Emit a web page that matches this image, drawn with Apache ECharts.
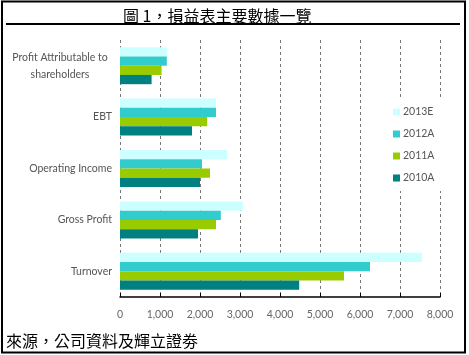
<!DOCTYPE html>
<html>
<head>
<meta charset="utf-8">
<script src="https://cdn.jsdelivr.net/npm/echarts@6/dist/echarts.min.js"></script>
<style>html,body{margin:0;padding:0;background:#fff;}#c{width:469px;height:355px;}</style>
</head>
<body>
<div id="c"></div>
<script>
const categories = ['Turnover', 'Gross Profit', 'Operating Income', 'EBT', 'Profit Attributable to shareholders'];
const seriesNames = ['2013E', '2012A', '2011A', '2010A'];
const values2013E = [7550, 3070, 2680, 2400, 1170];
const values2012A = [6250, 2520, 2050, 2400, 1170];
const values2011A = [5600, 2400, 2250, 2180, 1040];
const values2010A = [4480, 1950, 2000, 1800, 790];
const xTicks = [0, 1000, 2000, 3000, 4000, 5000, 6000, 7000, 8000];
const colors = ['#ccffff', '#33cccc', '#99cc00', '#008080'];

const titleText = '圖 1，損益表主要數據一覽';
const footerText = '來源，公司資料及輝立證劵';

const chart = echarts.init(document.getElementById('c'));
const dataSets = [values2013E, values2012A, values2011A, values2010A];
const labelFont = 'Lato, "Liberation Sans", sans-serif';

chart.setOption({
  animation: false,
  backgroundColor: '#fff',
  title: {
    text: titleText,
    left: 118,
    top: 3,
    textStyle: { fontFamily: '"Noto Sans CJK TC", sans-serif', fontSize: 16, fontWeight: 'normal', color: '#000' }
  },
  legend: {
    orient: 'vertical',
    left: 383,
    top: 97,
    padding: [9, 12, 7, 10],
    backgroundColor: '#fff',
    itemWidth: 7,
    itemHeight: 7,
    itemGap: 10,
    icon: 'rect',
    data: seriesNames,
    textStyle: { fontFamily: labelFont, fontSize: 10.5, color: '#555', lineHeight: 12, padding: [0, 0, 0, -2] }
  },
  grid: { left: 120, right: 29, top: 40, bottom: 58, containLabel: false },
  xAxis: {
    type: 'value',
    min: xTicks[0],
    max: xTicks[xTicks.length - 1],
    interval: 1000,
    axisLine: { show: true, lineStyle: { color: '#000', width: 1.5 } },
    axisTick: { show: true, inside: true, length: 4, lineStyle: { color: '#000' } },
    splitLine: { show: true, lineStyle: { type: [3, 3], color: '#777', width: 1 } },
    axisLabel: {
      margin: 12,
      fontFamily: labelFont, fontSize: 10.5, color: '#666',
      formatter: v => v.toLocaleString('en-US')
    }
  },
  yAxis: {
    type: 'category',
    data: categories,
    axisLine: { show: false },
    axisTick: { show: false },
    axisLabel: {
      margin: 8,
      fontFamily: labelFont, fontSize: 10.5, color: '#555',
      lineHeight: 17,
      formatter: v => v === 'Profit Attributable to shareholders'
        ? '{c|Profit Attributable to}\n{c|shareholders}' : v,
      rich: { c: { width: 104, align: 'center', fontFamily: labelFont, fontSize: 10.5, color: '#555', lineHeight: 17 } }
    }
  },
  series: seriesNames.map((n, i) => ({
    name: n,
    type: 'bar',
    data: dataSets[i],
    barGap: '0%',
    barCategoryGap: '28%',
    itemStyle: { color: colors[i] }
  })),
  graphic: [
    { type: 'rect', shape: { x: 2, y: 1.5, width: 463, height: 351 }, style: { fill: null, stroke: '#000', lineWidth: 2 }, silent: true },
    { type: 'line', shape: { x1: 6, y1: 24, x2: 460, y2: 24 }, style: { stroke: '#000', lineWidth: 2 }, silent: true },
    { type: 'text', left: 6, top: 333, style: { text: footerText, font: '16px "Noto Sans CJK TC", sans-serif', fill: '#000' } }
  ]
});
</script>
</body>
</html>
